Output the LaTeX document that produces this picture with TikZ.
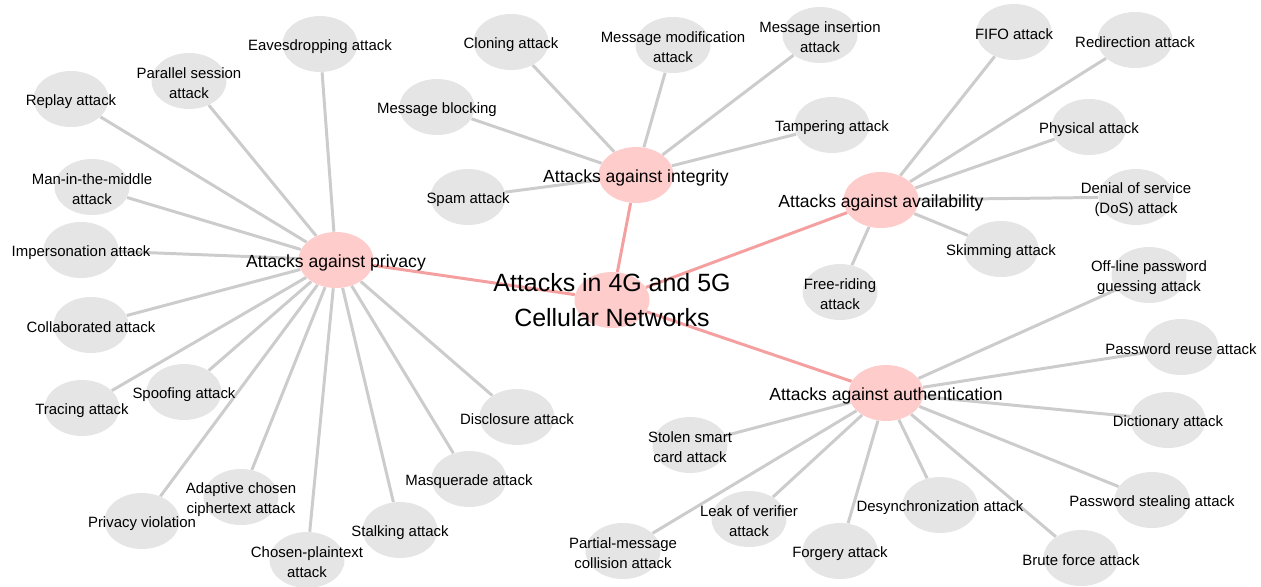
\documentclass[tikz,border=0pt]{standalone}
\usepackage{fontspec}
\setmainfont{Liberation Sans}
\usetikzlibrary{shapes.geometric,backgrounds}

\definecolor{leafgray}{HTML}{E5E5E5}
\definecolor{hubpink}{HTML}{FFCCCC}
\definecolor{spokegray}{HTML}{CCCCCC}
\definecolor{linkpink}{HTML}{F5A0A0}

\begin{document}
\begin{tikzpicture}[x=0.02cm, y=-0.02cm]
            \tikzset{
                leaf/.style={ellipse, fill=leafgray, minimum width=1.5cm, minimum height=1.12cm, inner sep=0pt},
                hub/.style={leaf, fill=hubpink},
                every label/.style={align=center, text=black, yshift=-0.05cm, font=\fontsize{8.5}{11.4}\selectfont},
                hublabel/.style={font=\fontsize{10}{12}\selectfont},
                spoke/.style={draw=spokegray, line width=1.7pt},
                link/.style={draw=linkpink, line width=1.7pt}
            }
            \useasboundingbox (0,0) rectangle (1261,586);

            % centre and the four groups
            \node[hub, label={[yshift=0.05cm, font=\fontsize{14.2}{20}\selectfont]center:{Attacks in 4G and 5G\\Cellular Networks}}] (main) at (612,300) {};
            \node[hub, label={[hublabel]center:Attacks against privacy}] (privacy) at (336,260) {};
            \node[hub, label={[hublabel]center:Attacks against integrity}] (integrity) at (636,175) {};
            \node[hub, label={[hublabel]center:Attacks against availability}] (availability) at (881,200) {};
            \node[hub, label={[hublabel]center:Attacks against authentication}] (authentication) at (886,393) {};

            % privacy
            \node[leaf, label={center:Eavesdropping attack}] (eaves) at (320,44) {};
            \node[leaf, label={center:{Parallel session\\attack}}] (parallel) at (189,81) {};
            \node[leaf, label={center:Replay attack}] (replay) at (71,99) {};
            \node[leaf, label={center:{Man-in-the-middle\\attack}}] (mitm) at (92,187) {};
            \node[leaf, label={center:Impersonation attack}] (imperson) at (81,250) {};
            \node[leaf, label={center:Collaborated attack}] (collab) at (91,325) {};
            \node[leaf, label={center:Tracing attack}] (tracing) at (82,408) {};
            \node[leaf, label={center:Spoofing attack}] (spoofing) at (184,392) {};
            \node[leaf, label={center:Privacy violation}] (violation) at (142,521) {};
            \node[leaf, label={center:{Adaptive chosen\\ciphertext attack}}] (adaptive) at (241,497) {};
            \node[leaf, label={center:{Chosen-plaintext\\attack}}] (plaintext) at (307,560) {};
            \node[leaf, label={center:Stalking attack}] (stalking) at (400,530) {};
            \node[leaf, label={center:Masquerade attack}] (masquerade) at (469,479) {};
            \node[leaf, label={center:Disclosure attack}] (disclosure) at (517,417) {};

            % integrity
            \node[leaf, label={center:Cloning attack}] (cloning) at (511,42) {};
            \node[leaf, label={center:{Message modification\\attack}}] (modification) at (673,45) {};
            \node[leaf, label={center:{Message insertion\\attack}}] (insertion) at (820,35) {};
            \node[leaf, label={center:Message blocking}] (blocking) at (437,107) {};
            \node[leaf, label={center:Tampering attack}] (tampering) at (832,125) {};
            \node[leaf, label={center:Spam attack}] (spam) at (468,197) {};

            % availability
            \node[leaf, label={center:FIFO attack}] (fifo) at (1014,32) {};
            \node[leaf, label={center:Redirection attack}] (redirection) at (1135,40) {};
            \node[leaf, label={center:Physical attack}] (physical) at (1089,127) {};
            \node[leaf, label={center:{Denial of service\\(DoS) attack}}] (dos) at (1136,197) {};
            \node[leaf, label={center:Skimming attack}] (skimming) at (1001,249) {};
            \node[leaf, label={center:{Free-riding\\attack}}] (freeriding) at (840,292) {};

            % authentication
            \node[leaf, label={center:{Off-line password\\guessing attack}}] (offline) at (1149,275) {};
            \node[leaf, label={center:Password reuse attack}] (reuse) at (1181,347) {};
            \node[leaf, label={center:Dictionary attack}] (dictionary) at (1168,420) {};
            \node[leaf, label={center:Password stealing attack}] (stealing) at (1152,500) {};
            \node[leaf, label={center:Brute force attack}] (brute) at (1081,558) {};
            \node[leaf, label={center:Desynchronization attack}] (desync) at (940,505) {};
            \node[leaf, label={center:Forgery attack}] (forgery) at (840,551) {};
            \node[leaf, label={center:{Leak of verifier\\attack}}] (leak) at (749,519) {};
            \node[leaf, label={center:{Partial-message\\collision attack}}] (partial) at (623,551) {};
            \node[leaf, label={center:{Stolen smart\\card attack}}] (stolen) at (690,445) {};

            \begin{scope}[on background layer]
                \foreach \g in {privacy,integrity,availability,authentication}
                    \draw[link] (main) -- (\g);
                \foreach \l in {eaves,parallel,replay,mitm,imperson,collab,tracing,spoofing,violation,adaptive,plaintext,stalking,masquerade,disclosure}
                    \draw[spoke] (privacy) -- (\l);
                \foreach \l in {cloning,modification,insertion,blocking,tampering,spam}
                    \draw[spoke] (integrity) -- (\l);
                \foreach \l in {fifo,redirection,physical,dos,skimming,freeriding}
                    \draw[spoke] (availability) -- (\l);
                \foreach \l in {offline,reuse,dictionary,stealing,brute,desync,forgery,leak,partial,stolen}
                    \draw[spoke] (authentication) -- (\l);
            \end{scope}
        \end{tikzpicture}
\end{document}
